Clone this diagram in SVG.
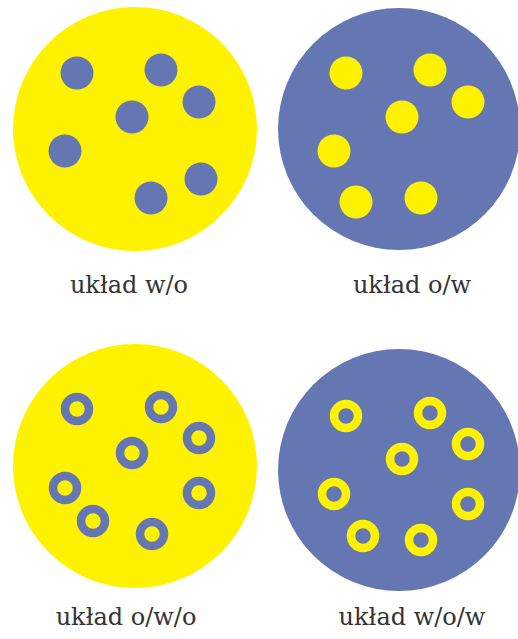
<svg xmlns="http://www.w3.org/2000/svg" width="518" height="639" viewBox="0 0 518 639">
<style>
.y{fill:#fff200}
.b{fill:#6577b3}
.ry{fill:none;stroke:#fff200;stroke-width:8.5}
.rb{fill:none;stroke:#6577b3;stroke-width:8.5}
.t{font-family:"DejaVu Serif","Liberation Serif",serif;font-size:24px;fill:#333;text-anchor:middle}
</style>
<rect width="518" height="639" fill="#fff"/>
<g id="wo">
<circle class="y" cx="135" cy="129" r="122"/>
<circle class="b" cx="77" cy="73" r="16.5"/>
<circle class="b" cx="161" cy="70" r="16.5"/>
<circle class="b" cx="199" cy="102" r="16.5"/>
<circle class="b" cx="132" cy="117" r="16.5"/>
<circle class="b" cx="65" cy="151" r="16.5"/>
<circle class="b" cx="201" cy="179" r="16.5"/>
<circle class="b" cx="151" cy="198" r="16.5"/>
<text class="t" x="129" y="293">układ w/o</text>
</g>
<g id="ow">
<circle class="b" cx="399" cy="129" r="121"/>
<circle class="y" cx="346" cy="73" r="16.5"/>
<circle class="y" cx="430" cy="70" r="16.5"/>
<circle class="y" cx="468" cy="102" r="16.5"/>
<circle class="y" cx="402" cy="117" r="16.5"/>
<circle class="y" cx="334" cy="151" r="16.5"/>
<circle class="y" cx="356" cy="202" r="16.5"/>
<circle class="y" cx="421" cy="198" r="16.5"/>
<text class="t" x="412" y="293">układ o/w</text>
</g>
<g id="owo">
<circle class="y" cx="135" cy="466" r="122"/>
<circle class="rb" cx="77" cy="409" r="12"/>
<circle class="rb" cx="161" cy="407" r="12"/>
<circle class="rb" cx="199" cy="438" r="12"/>
<circle class="rb" cx="132" cy="453" r="12"/>
<circle class="rb" cx="65" cy="488" r="12"/>
<circle class="rb" cx="199" cy="493" r="12"/>
<circle class="rb" cx="93" cy="521" r="12"/>
<circle class="rb" cx="152" cy="534" r="12"/>
<text class="t" x="126" y="625">układ o/w/o</text>
</g>
<g id="wow">
<circle class="b" cx="399" cy="470" r="121"/>
<circle class="ry" cx="346" cy="416" r="12"/>
<circle class="ry" cx="430" cy="413" r="12"/>
<circle class="ry" cx="468" cy="444" r="12"/>
<circle class="ry" cx="402" cy="459" r="12"/>
<circle class="ry" cx="334" cy="494" r="12"/>
<circle class="ry" cx="468" cy="504" r="12"/>
<circle class="ry" cx="363" cy="536" r="12"/>
<circle class="ry" cx="421" cy="540" r="12"/>
<text class="t" x="412" y="625">układ w/o/w</text>
</g>
<g id="connectors"/>
</svg>
